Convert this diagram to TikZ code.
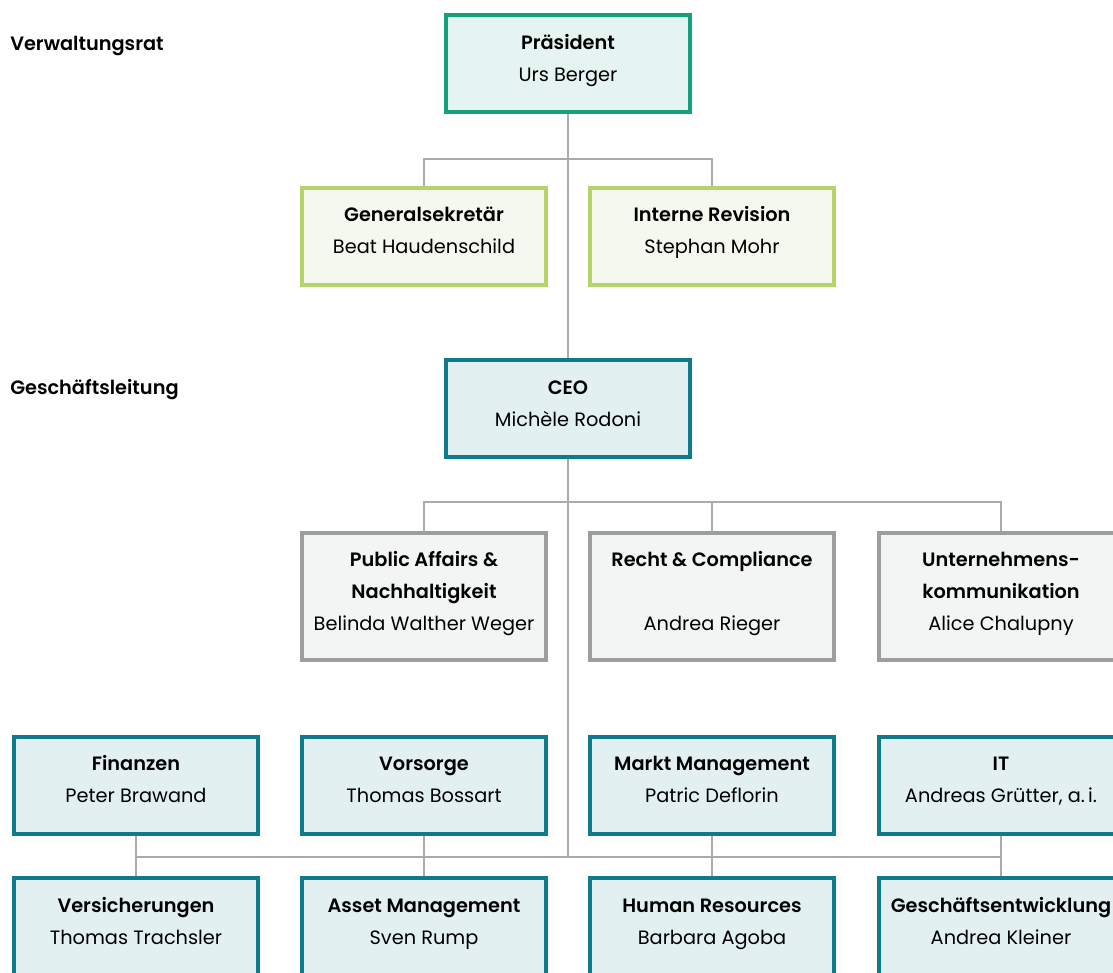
\documentclass[tikz,border=0pt]{standalone}
\usepackage{fontspec}
\setmainfont{Poppins}[BoldFont={Poppins SemiBold}]
\usepackage{tikz}

\definecolor{praesline}{HTML}{18A07C}
\definecolor{praesfill}{HTML}{E5F4F0}
\definecolor{vrline}{HTML}{B4D46A}
\definecolor{vrfill}{HTML}{F5F8EE}
\definecolor{glline}{HTML}{0E7B8B}
\definecolor{glfill}{HTML}{E3F0F2}
\definecolor{stabline}{HTML}{9B9D9F}
\definecolor{stabfill}{HTML}{F3F4F4}
\definecolor{connline}{HTML}{A9ACAF}

\tikzset{
  unit/.style={draw, line width=3pt, align=center, inner ysep=0pt,
    minimum width=183pt, text height=49.5pt, text depth=23.25pt,
    font=\fontsize{14.5}{24}\selectfont},
  praes/.style={unit, draw=praesline, fill=praesfill},
  vrunit/.style={unit, draw=vrline, fill=vrfill},
  glunit/.style={unit, draw=glline, fill=glfill},
  stabunit/.style={unit, draw=stabline, fill=stabfill, text height=73.5pt, text depth=22pt},
  conn/.style={draw=connline, line width=0.8pt},
  gremium/.style={anchor=base west, inner sep=0pt, font=\fontsize{14.5}{24}\selectfont\bfseries}
}

\begin{document}
\begin{tikzpicture}[x=0.75pt, y=-0.75pt]
    \useasboundingbox (0,0) rectangle (1113,972);
    \clip (0,0) rectangle (1113,972);

    % Gremien
    \node[gremium] (vr) at (10,50) {Verwaltungsrat};
    \node[gremium] (gl) at (10,394) {Geschäftsleitung};

    % Verwaltungsrat
    \node[praes] (pres) at (568,63.5) {\textbf{Präsident}\\Urs Berger};
    \node[vrunit] (gs) at (424,236) {\textbf{Generalsekretär}\\Beat Haudenschild};
    \node[vrunit] (ir) at (712,236) {\textbf{Interne Revision}\\Stephan Mohr};

    % Geschaeftsleitung
    \node[glunit] (ceo) at (568,408.5) {\textbf{CEO}\\Michèle Rodoni};
    \node[stabunit] (pa) at (424,596.5) {\textbf{Public Affairs \&}\\\textbf{Nachhaltigkeit}\\Belinda Walther Weger};
    \node[stabunit] (rc) at (712,596.5) {\textbf{Recht \& Compliance}\\~\\Andrea Rieger};
    \node[stabunit] (uk) at (1001,596.5) {\textbf{Unternehmens-}\\\textbf{kommunikation}\\Alice Chalupny};

    \node[glunit] (fin) at (136,785) {\textbf{Finanzen}\\Peter Brawand};
    \node[glunit] (vor) at (424,785) {\textbf{Vorsorge}\\Thomas Bossart};
    \node[glunit] (mm) at (712,785) {\textbf{Markt Management}\\Patric Deflorin};
    \node[glunit] (it) at (1001,785) {\textbf{IT}\\Andreas Grütter, a.\,i.};

    \node[glunit] (vers) at (136,926.5) {\textbf{Versicherungen}\\Thomas Trachsler};
    \node[glunit] (am) at (424,926.5) {\textbf{Asset Management}\\Sven Rump};
    \node[glunit] (hr) at (712,926.5) {\textbf{Human Resources}\\Barbara Agoba};
    \node[glunit] (ge) at (1001,926.5) {\textbf{Geschäftsentwicklung}\\Andrea Kleiner};

    % Linien
    \coordinate (j1) at (568,159);
    \coordinate (j2) at (568,502);
    \coordinate (j3) at (568,857);
    \draw[conn] (pres.south) -- (ceo.north);
    \draw[conn] (gs.north) |- (j1) -| (ir.north);
    \draw[conn] (pa.north) |- (j2) -| (uk.north);
    \draw[conn] (rc.north) -- (rc.north |- j2);
    \draw[conn] (ceo.south) -- (j3);
    \draw[conn] (fin.south |- j3) -- (it.south |- j3);
    \foreach \a/\b in {fin/vers,vor/am,mm/hr,it/ge}
        \draw[conn] (\a.south) -- (\b.north);
\end{tikzpicture}
\end{document}
